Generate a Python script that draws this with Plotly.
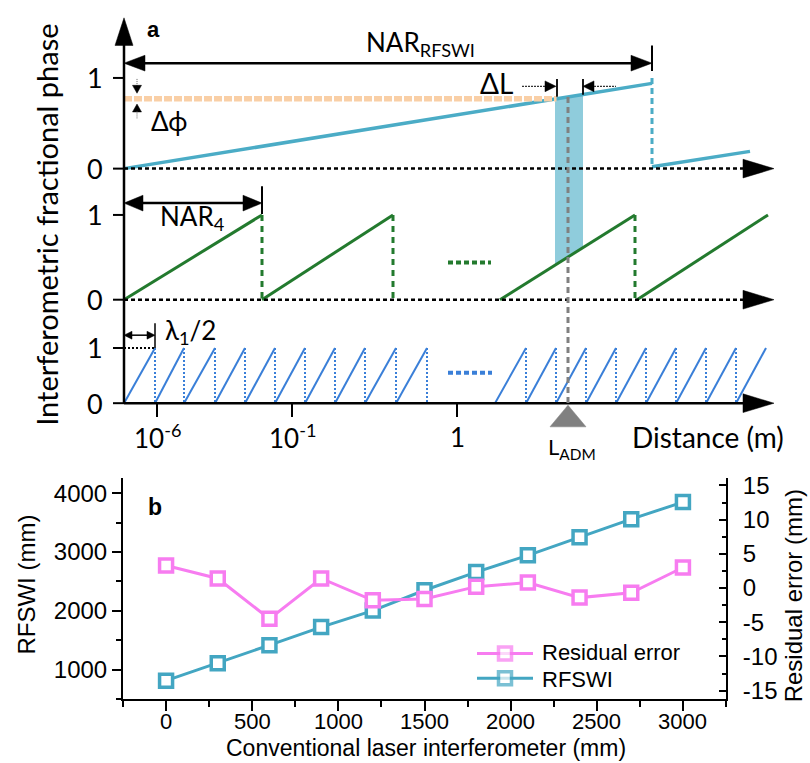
import plotly.graph_objects as go

W, H = 810, 763

# ---------------- Panel a : schematic data (schematic distance units, phase in cycles)
row1_x = [124, 652]
row1_phase = [0.0, 0.94]
row1_wrap_x = [652, 750]
row1_wrap_phase = [0.02, 0.19]
row1_jump_x = [652]
row2_starts = [124, 262, 500, 637]
row2_ends = [262, 393, 635, 768]
row2_jumps = [262, 393, 635]
row3_edges_g1 = [124, 155, 184, 215, 245, 275, 305, 335, 365, 396, 427]
row3_edges_g2 = [495, 526, 556, 586, 616, 646, 676, 706, 736, 766]
measured_phase = 0.77
L_adm = 568
dL_window = [555, 583]
dist_tick_pos = [157, 292, 457]
dist_tick_text = ['10<sup>-6</sup>', '10<sup>-1</sup>', '1']

# ---------------- Panel b : measured data
conv_mm = [0, 300, 600, 900, 1200, 1500, 1800, 2100, 2400, 2700, 3000]
rfswi_mm = [810, 1106, 1415, 1723, 2003, 2350, 2659, 2945, 3252, 3560, 3852]
resid_mm = [3.3, 1.4, -4.5, 1.4, -1.8, -1.6, 0.2, 0.8, -1.4, -0.7, 3.0]
conv_ticks = [0, 500, 1000, 1500, 2000, 2500, 3000]
resid_ticks = [-15, -10, -5, 0, 5, 10, 15]
resid_ticktext = ['-15', '-10', '-5', '0', '5', '10', '15']

# colours
C_TOP = '#4bacc6'
C_GREEN = '#237a2e'
C_BLUE = '#3a7fd8'
C_ORANGE = '#f9cfa6'
C_PINK = '#f77cf0'
C_CYAN = '#43a6c2'
FA = 'Lato'
FB = 'Liberation Sans'

# pixel rows (phase 0 / phase 1 pixel rows)
rows = {'y2': (165, 73), 'y3': (298, 212), 'y4': (403, 347)}


def rng(axis):
    b, t = rows[axis]
    k = b - t
    return [(b - H) / k, b / k]


def pph(axis, phase):
    b, t = rows[axis]
    return b - phase * (b - t)


def P(x, y):
    return x / W, 1 - y / H


def tri(pts, color='black'):
    s = 'M ' + ' L '.join(f'{P(x, y)[0]:.5f},{P(x, y)[1]:.5f}' for x, y in pts) + ' Z'
    return dict(type='path', path=s, xref='paper', yref='paper',
                fillcolor=color, line=dict(color=color, width=0.5))


def seg(x0, y0, x1, y1, color='black', width=2, dash='solid', layer='above'):
    a = P(x0, y0)
    b = P(x1, y1)
    return dict(type='line', xref='paper', yref='paper', x0=a[0], y0=a[1], x1=b[0], y1=b[1],
                line=dict(color=color, width=width, dash=dash), layer=layer)


fig = go.Figure()

# ---- row 1
fig.add_trace(go.Scatter(x=row1_x, y=row1_phase, mode='lines', line=dict(color=C_TOP, width=3.5),
                         xaxis='x', yaxis='y2', showlegend=False, hoverinfo='skip'))
fig.add_trace(go.Scatter(x=row1_wrap_x, y=row1_wrap_phase, mode='lines', line=dict(color=C_TOP, width=3.5),
                         xaxis='x', yaxis='y2', showlegend=False, hoverinfo='skip'))
fig.add_trace(go.Scatter(x=[row1_jump_x[0], row1_jump_x[0]], y=[1, 0], mode='lines',
                         line=dict(color=C_TOP, width=3, dash='6px,4px'),
                         xaxis='x', yaxis='y2', showlegend=False, hoverinfo='skip'))
x_meet = row1_x[0] + (measured_phase - row1_phase[0]) / (row1_phase[1] - row1_phase[0]) * (row1_x[1] - row1_x[0])
fig.add_trace(go.Scatter(x=[row1_x[0], x_meet], y=[measured_phase, measured_phase], mode='lines',
                         line=dict(color=C_ORANGE, width=5.5, dash='8px,2px'),
                         xaxis='x', yaxis='y2', showlegend=False, hoverinfo='skip'))

# ---- row 2
gx, gy = [], []
for s, e in zip(row2_starts, row2_ends):
    gx += [s, e, None]
    gy += [0, 1, None]
fig.add_trace(go.Scatter(x=gx, y=gy, mode='lines', line=dict(color=C_GREEN, width=3),
                         xaxis='x', yaxis='y3', showlegend=False, hoverinfo='skip'))
dx, dy = [], []
for j in row2_jumps:
    dx += [j, j, None]
    dy += [1, 0, None]
fig.add_trace(go.Scatter(x=dx, y=dy, mode='lines', line=dict(color=C_GREEN, width=3, dash='6px,5px'),
                         xaxis='x', yaxis='y3', showlegend=False, hoverinfo='skip'))
fig.add_trace(go.Scatter(x=[448, 491], y=[0.44, 0.44], mode='lines',
                         line=dict(color=C_GREEN, width=4, dash='5px,3px'),
                         xaxis='x', yaxis='y3', showlegend=False, hoverinfo='skip'))

# ---- row 3
bx, by, vx, vy = [], [], [], []
for edges, last_dash in ((row3_edges_g1, True), (row3_edges_g2, False)):
    for i in range(len(edges) - 1):
        bx += [edges[i], edges[i + 1], None]
        by += [0, 1, None]
        if i < len(edges) - 2 or last_dash:
            vx += [edges[i + 1], edges[i + 1], None]
            vy += [1, 0, None]
fig.add_trace(go.Scatter(x=bx, y=by, mode='lines', line=dict(color=C_BLUE, width=2),
                         xaxis='x', yaxis='y4', showlegend=False, hoverinfo='skip'))
fig.add_trace(go.Scatter(x=vx, y=vy, mode='lines', line=dict(color=C_BLUE, width=2, dash='2px,2px'),
                         xaxis='x', yaxis='y4', showlegend=False, hoverinfo='skip'))
fig.add_trace(go.Scatter(x=[448, 492], y=[0.55, 0.55], mode='lines',
                         line=dict(color=C_BLUE, width=4, dash='5px,3px'),
                         xaxis='x', yaxis='y4', showlegend=False, hoverinfo='skip'))

# ---- Panel b
fig.add_trace(go.Scatter(x=conv_mm, y=rfswi_mm, name='RFSWI', mode='lines+markers',
                         line=dict(color=C_CYAN, width=3),
                         marker=dict(symbol='square', size=13, color='white',
                                     line=dict(color=C_CYAN, width=3.5)),
                         xaxis='x5', yaxis='y5', showlegend=False))
fig.add_trace(go.Scatter(x=conv_mm, y=resid_mm, name='Residual error', mode='lines+markers',
                         line=dict(color=C_PINK, width=3),
                         marker=dict(symbol='square', size=13, color='white',
                                     line=dict(color=C_PINK, width=3.5)),
                         xaxis='x5', yaxis='y6', showlegend=False))

# manual legend (pixel overlay axis)
for yy, col in ((657, C_PINK), (682, C_CYAN)):
    fig.add_trace(go.Scatter(x=[477, 505, 533], y=[yy, yy, yy], mode='lines+markers',
                             line=dict(color=col, width=3),
                             marker=dict(symbol='square', size=[0, 13, 0], color='white',
                                         line=dict(color=col, width=[0, 3.5, 0])),
                             xaxis='x', yaxis='y', showlegend=False, hoverinfo='skip'))

shapes = []
# y axis of panel a
shapes.append(seg(124, 403, 124, 36, width=2.5))
shapes.append(tri([(124, 12), (115, 40), (133, 40)]))
for yy in (73, 165, 212, 298, 347, 403):
    shapes.append(seg(113, yy, 124, yy, width=2))
# horizontal axes of rows
shapes.append(seg(124, 165, 745, 165, width=2.5, dash='4px,3px'))
shapes.append(seg(124, 298, 745, 298, width=2.5, dash='4px,3px'))
shapes.append(seg(124, 403, 745, 403, width=2.5))
for yy in (165, 298, 403):
    shapes.append(tri([(743, yy - 9.5), (774, yy), (743, yy + 9.5)]))
# distance ticks
for xx in dist_tick_pos:
    shapes.append(seg(xx, 403, xx, 417, width=2))
# NAR_RFSWI arrow
shapes.append(seg(140, 58, 636, 58, width=2.5))
shapes.append(tri([(124, 58), (145, 50), (145, 66)]))
shapes.append(tri([(652, 58), (631, 50), (631, 66)]))
shapes.append(seg(652, 40, 652, 66, width=2))
# NAR_4 arrow
shapes.append(seg(140, 200, 246, 200, width=2.5))
shapes.append(tri([(124, 200), (143, 192), (143, 208)]))
shapes.append(tri([(262, 200), (243, 192), (243, 208)]))
shapes.append(seg(262, 183, 262, 211, width=2))
# lambda/2 arrow
shapes.append(seg(130, 334, 149, 334, width=1.5))
shapes.append(tri([(124, 334), (132, 330), (132, 338)]))
shapes.append(tri([(155, 334), (147, 330), (147, 338)]))
shapes.append(seg(155, 322, 155, 347, width=1.5))
shapes.append(seg(124, 347, 155, 347, width=2, dash='2px,2px'))
# delta phi arrows
shapes.append(seg(137, 74, 137, 82, color='#666', width=1, dash='1px,1px'))
shapes.append(tri([(137, 88.5), (132.5, 80.5), (141.5, 80.5)]))
shapes.append(tri([(137, 99.5), (132.5, 107.5), (141.5, 107.5)]))
shapes.append(seg(137, 107, 137, 114, color='#666', width=1, dash='1px,1px'))
# delta L arrows
shapes.append(seg(522, 81.5, 545, 81.5, color='#333', width=1.2, dash='2px,1px'))
shapes.append(tri([(556, 81.5), (545, 76), (545, 87)]))
shapes.append(seg(557, 74, 557, 92, width=1.8))
shapes.append(seg(583, 74, 583, 90, width=1.8))
shapes.append(tri([(583, 81.5), (594, 76), (594, 87)]))
shapes.append(seg(594, 81.5, 616, 81.5, color='#333', width=1.2, dash='2px,1px'))


# shaded window between row1 and row2 lines
def interp(x, xs, ys):
    return ys[0] + (x - xs[0]) / (xs[1] - xs[0]) * (ys[1] - ys[0])


xa, xb = dL_window
top_a = pph('y2', interp(xa, row1_x, row1_phase))
top_b = pph('y2', interp(xb, row1_x, row1_phase))
bot_a = pph('y3', interp(xa, [row2_starts[2], row2_ends[2]], [0, 1]))
bot_b = pph('y3', interp(xb, [row2_starts[2], row2_ends[2]], [0, 1]))
rect = tri([(xa, top_a), (xb, top_b), (xb, bot_b), (xa, bot_a)], color='rgba(75,172,198,0.62)')
rect['line'] = dict(width=0)
rect['layer'] = 'below'
shapes.append(rect)
# L_ADM dashed line and marker
shapes.append(seg(L_adm, pph('y2', interp(L_adm, row1_x, row1_phase)), L_adm, 408,
                  color='#808080', width=3, dash='6px,4px'))
shapes.append(tri([(L_adm, 405), (550, 427), (586, 427)], color='#808080'))

ann = []


def txt(x, y, s, size=26, font=FA, bold=False, angle=0, xanchor='center'):
    p = P(x, y)
    ann.append(dict(x=p[0], y=p[1], xref='paper', yref='paper', text=('<b>%s</b>' % s) if bold else s,
                    showarrow=False, xanchor=xanchor, yanchor='middle', textangle=angle,
                    font=dict(family=font, size=size, color='black')))


txt(153, 24, 'a', size=22, font=FB, bold=True)
txt(420, 38, 'NAR<sub>RFSWI</sub>')
txt(496, 78, 'ΔL', size=28)
txt(169, 117, 'Δϕ')
txt(192, 215, 'NAR<sub>4</sub>')
txt(190, 330, 'λ<sub>1</sub>/2')
for yy, lab in ((73, '1'), (165, '0'), (212, '1'), (298, '0'), (347, '1'), (403, '0')):
    txt(95, yy, lab, size=27)
for xx, lab in zip(dist_tick_pos, dist_tick_text):
    txt(xx, 437, lab)
txt(572, 448, 'L<sub>ADM</sub>', size=22)
txt(708, 437, 'Distance (m)', size=28)
txt(47, 222, 'Interferometric fractional phase', size=29, angle=-90)

# panel b texts
txt(155, 508, 'b', size=23, font=FB, bold=True)
txt(27, 587, 'RFSWI (mm)', size=24, font=FB, angle=-90)
txt(793, 599, 'Residual error (mm)', size=24, font=FB, angle=-90)
txt(426, 752.5, 'Conventional laser interferometer (mm)', size=23, font=FB)
txt(540, 656, 'Residual error', size=22, font=FB, xanchor='left')
txt(540, 683, 'RFSWI', size=22, font=FB, xanchor='left')
# x tick labels of panel b, placed through the x5 data scale
for v in conv_ticks:
    ann.append(dict(x=v, y=1 - 725.5 / H, xref='x5', yref='paper', text=str(v), showarrow=False,
                    xanchor='center', yanchor='middle', font=dict(family=FB, size=22, color='black')))

bx0, bx1 = 123, 726
by0, by1 = 479, 703
xdom = [bx0 / W, bx1 / W]
ydom = [1 - by1 / H, 1 - by0 / H]
tickfont = dict(family=FB, size=24, color='black')

fig.update_layout(
    width=W, height=H, margin=dict(l=0, r=0, t=0, b=0),
    paper_bgcolor='white', plot_bgcolor='rgba(0,0,0,0)',
    shapes=shapes, annotations=ann,
    xaxis=dict(domain=[0, 1], range=[0, W], visible=False, anchor='y', fixedrange=True),
    yaxis=dict(domain=[0, 1], range=[H, 0], visible=False, anchor='x', fixedrange=True),
    yaxis2=dict(domain=[0, 1], range=rng('y2'), visible=False, anchor='x', overlaying='y'),
    yaxis3=dict(domain=[0, 1], range=rng('y3'), visible=False, anchor='x', overlaying='y'),
    yaxis4=dict(domain=[0, 1], range=rng('y4'), visible=False, anchor='x', overlaying='y'),
    xaxis5=dict(domain=xdom, range=[-250, 3250], anchor='y5', tickmode='linear', tick0=0, dtick=500,
                ticks='outside', ticklen=10, tickwidth=2, tickcolor='black',
                minor=dict(ticks='outside', ticklen=6, tickwidth=2, dtick=250, tick0=0, tickcolor='black'),
                showticklabels=False,
                showline=True, linecolor='black', linewidth=2, showgrid=False, zeroline=False),
    xaxis7=dict(domain=xdom, range=[-250, 3250], anchor='y5', overlaying='x5', side='top',
                tickmode='linear', tick0=0, dtick=250, ticks='inside', ticklen=6, tickwidth=2,
                tickcolor='black', showticklabels=False, showline=True, linecolor='black',
                linewidth=2, showgrid=False, zeroline=False),
    yaxis5=dict(domain=ydom, range=[500, 4260], anchor='x5', tickmode='linear', tick0=0, dtick=1000,
                ticks='outside', ticklen=9, tickwidth=2, tickcolor='black',
                minor=dict(ticks='outside', ticklen=5, tickwidth=2, dtick=500, tick0=0, tickcolor='black'),
                showline=True, linecolor='black', linewidth=2, showgrid=False, zeroline=False,
                tickfont=tickfont),
    yaxis6=dict(domain=ydom, range=[-16.2, 16.07], anchor='x5', overlaying='y5', side='right',
                tickmode='array', tickvals=resid_ticks, ticktext=resid_ticktext,
                ticks='inside', ticklen=7, tickwidth=2, tickcolor='black',
                minor=dict(ticks='inside', ticklen=4, tickwidth=2, dtick=2.5, tick0=0, tickcolor='black'),
                showline=True, linecolor='black', linewidth=2, showgrid=False, zeroline=False,
                tickfont=tickfont, ticklabelstandoff=10),
)

fig.write_html('out.html')
